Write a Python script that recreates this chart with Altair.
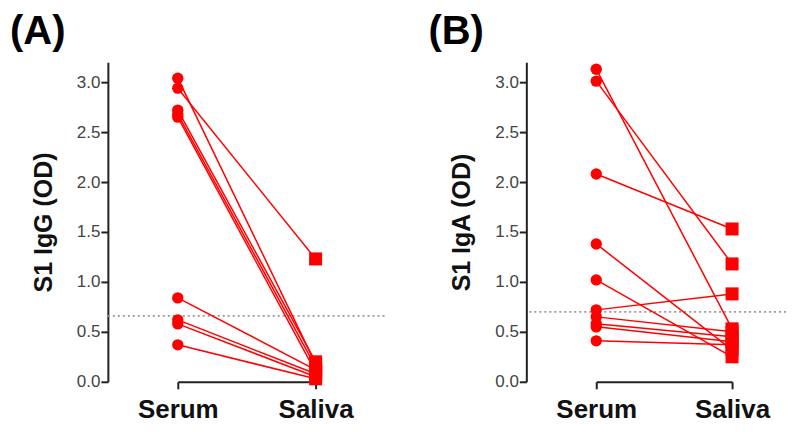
import altair as alt
import pandas as pd

groups = ["Serum", "Saliva"]
y_ticks = [0.0, 0.5, 1.0, 1.5, 2.0, 2.5, 3.0]

# Panel A: S1 IgG (OD)
a_serum = [3.04, 2.94, 2.72, 2.68, 2.65, 0.84, 0.62, 0.58, 0.37]
a_saliva = [0.18, 1.23, 0.20, 0.15, 0.10, 0.12, 0.08, 0.05, 0.03]
a_threshold = 0.66

# Panel B: S1 IgA (OD)
b_serum = [3.13, 3.01, 2.08, 1.38, 1.02, 0.72, 0.65, 0.58, 0.55, 0.41]
b_saliva = [0.53, 1.18, 1.53, 0.32, 0.25, 0.88, 0.50, 0.45, 0.40, 0.37]
b_threshold = 0.70

RED = "#ff0000"
FONT = "Liberation Sans"


def to_long(serum, saliva):
    rows = []
    for i, (s, v) in enumerate(zip(serum, saliva)):
        rows.append({"pair": i, "group": "Serum", "od": s})
        rows.append({"pair": i, "group": "Saliva", "od": v})
    return pd.DataFrame(rows)


def panel(serum, saliva, thr, ytitle, label, width, xrange):
    df = to_long(serum, saliva)
    xaxis = alt.Axis(title=None, labelAngle=0, labelFontSize=26, labelFontWeight="bold",
                     labelColor="#111111", labelFont=FONT, tickSize=7, tickWidth=2,
                     domainWidth=2, domainColor="#222222", tickColor="#222222",
                     labelPadding=8, grid=False)
    xscale = alt.Scale(domain=groups, range=xrange, padding=0)
    yaxis = alt.Axis(values=y_ticks, format=".1f", title=ytitle, titleFontSize=25,
                     titleFontWeight="bold", titleFont=FONT, titleColor="#111111",
                     titlePadding=20, labelFontSize=17, labelFont=FONT, labelColor="#444444",
                     tickSize=7, tickWidth=2, tickColor="#222222", domainWidth=2,
                     domainColor="#222222", labelPadding=1, grid=False)
    yscale = alt.Scale(domain=[0, 3.2], nice=False)

    x = alt.X("group:N", sort=groups, scale=xscale, axis=xaxis)
    y = alt.Y("od:Q", scale=yscale, axis=yaxis)

    rule = alt.Chart(pd.DataFrame({"thr": [thr]})).mark_rule(
        color="#999999", strokeDash=[2, 3], strokeWidth=1.6
    ).encode(y=alt.Y("thr:Q", scale=yscale, axis=yaxis))

    lines = alt.Chart(df).mark_line(color=RED, strokeWidth=1.5).encode(
        x=x, y=y, detail="pair:N"
    )
    pts = alt.Chart(df).mark_point(filled=True, opacity=1, color=RED).encode(
        x=x, y=y,
        shape=alt.Shape("group:N", scale=alt.Scale(domain=groups, range=["circle", "square"]), legend=None),
        size=alt.Size("group:N", scale=alt.Scale(domain=groups, range=[130, 170]), legend=None),
    )
    return alt.layer(rule, lines, pts).properties(
        width=width, height=320,
        title=alt.TitleParams(label, anchor="start", frame="group", dx=-98, fontSize=40,
                              fontWeight="bold", font=FONT, color="#000000",
                              baseline="alphabetic", offset=-22),
    )


pa = panel(a_serum, a_saliva, a_threshold, "S1 IgG (OD)", "(A)", 277, [70, 208])
pb = panel(b_serum, b_saliva, b_threshold, "S1 IgA (OD)", "(B)", 260, [70, 206])

chart = alt.hconcat(pa, pb, spacing=142, bounds="flush").properties(
    padding={"left": 2, "top": 4, "right": 0, "bottom": 0},
    background="white",
).configure_view(strokeWidth=0, stroke=None)

chart.save("out.html", embed_options={"renderer": "svg", "actions": False})
